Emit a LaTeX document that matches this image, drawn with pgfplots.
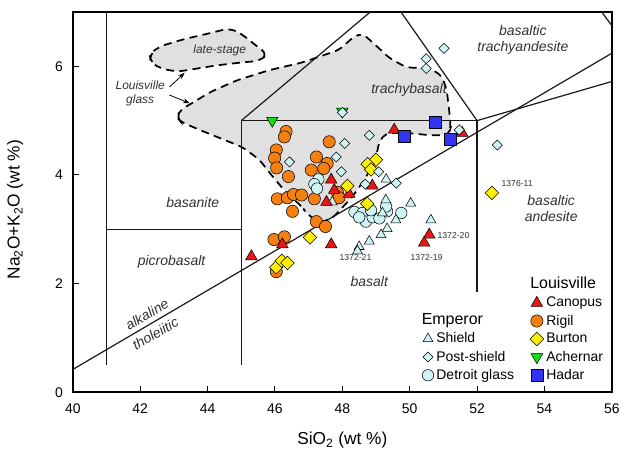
\documentclass[border=0pt]{standalone}
\usepackage{fontspec}
\setmainfont{Liberation Sans}
\usepackage{pgfplots}
\pgfplotsset{compat=1.18}
\usetikzlibrary{arrows.meta}
\definecolor{canred}{RGB}{232,22,22}
\definecolor{rigor}{RGB}{245,128,18}
\definecolor{burye}{RGB}{255,240,0}
\definecolor{achgr}{RGB}{20,222,20}
\definecolor{hadbl}{RGB}{52,52,240}
\definecolor{pale}{RGB}{208,243,243}
\definecolor{fieldfill}{RGB}{224,224,224}
\definecolor{ftext}{RGB}{50,50,50}
\pgfplotsset{
  mk/.style={only marks, mark options={draw=black, line width=0.45pt}},
}
\begin{document}
\begin{tikzpicture}
\begin{axis}[
  name=ax,
  scale only axis, width=405pt, height=285.75pt,
  xmin=40, xmax=56, ymin=0, ymax=7,
  xtick={40,42,...,56}, ytick={0,2,4,6},
  tick align=inside, xtick pos=bottom, ytick pos=left,
  major tick length=4.5pt,
  tick style={line width=0.8pt, black},
  axis line style={line width=1.3pt},
  /pgf/number format/assume math mode=true,
  ticklabel style={font=\fontsize{10.5}{12}\selectfont},
  xticklabel style={yshift=-5.5pt},
  yticklabel style={xshift=-4pt},
  xlabel={SiO\textsubscript{2} (wt \%)},
  ylabel={Na\textsubscript{2}O+K\textsubscript{2}O (wt \%)},
  label style={font=\fontsize{13}{15}\selectfont},
  xlabel style={at={(axis description cs:0.5,-0.126)}, anchor=center},
  ylabel style={at={(axis description cs:-0.107,0.48)}, anchor=center},
  legend style={at={(0.832,0)}, anchor=south west, yshift=4pt, draw=none, fill=none,
    font=\fontsize{10.5}{12}\selectfont, row sep=0.6pt},
  legend cell align=left,
]
% glass fields
\addplot[fill=fieldfill, draw=black, line width=1.3pt, dash pattern=on 6pt off 4pt, rounded corners=4pt, forget plot] coordinates {
(43.08,5.06) (43.2,5.2) (43.56,5.33) (44.06,5.52) (44.86,5.74) (45.84,5.93) (46.81,6.07) (47.9,6.3) (48.35,6.55) (48.6,6.6) (48.9,6.44) (49.4,6.15) (49.9,5.98) (50.6,5.96) (50.95,5.83) (51.1,5.56) (51.17,5.2) (51.22,4.88) (51.15,4.73) (50.6,4.73) (50.0,4.77) (49.3,4.77) (49.1,4.62) (49.0,4.33) (48.7,3.95) (48.3,3.6) (47.7,3.2) (47.3,3.12) (46.93,3.3) (46.81,3.41) (46.34,3.67) (45.84,4.04) (45.54,4.28) (45.04,4.51) (43.76,4.83) (43.2,4.98)
} -- cycle;
\addplot[fill=fieldfill, draw=black, line width=1.3pt, dash pattern=on 6pt off 4pt, rounded corners=5pt, forget plot] coordinates {
(42.28,6.22) (42.55,6.36) (43.3,6.5) (44.0,6.6) (44.65,6.7) (45.0,6.6) (45.4,6.4) (45.78,6.22) (45.55,6.1) (45.0,6.07) (44.3,6.02) (43.7,5.96) (43.1,5.9) (42.6,5.96) (42.3,6.08)
} -- cycle;
% field boundaries
\pgfplotsset{bnd/.style={no markers, black!90, line width=0.9pt, forget plot}}
\addplot[bnd] coordinates {(41,0.5) (41,7)};
\addplot[bnd] coordinates {(41,3) (45,3)};
\addplot[bnd] coordinates {(45,0.5) (45,5)};
\addplot[bnd] coordinates {(45,5) (52,5)};
\addplot[bnd] coordinates {(52,5) (52,1.85)};
\addplot[bnd] coordinates {(45,5) (48.83,7)};
\addplot[bnd] coordinates {(52,5) (49.74,7)};
\addplot[bnd] coordinates {(52,5) (56,5.72)};
\addplot[bnd] coordinates {(55.7,7) (56,6.75)};
\addplot[bnd] coordinates {(40,0.42) (56,6.24)};
% Rigil
\addplot[mk, forget plot, mark=*, mark size=4.6pt, mark options={fill=rigor}] coordinates {
(46.33,4.80) (46.28,4.70) (47.61,4.61) (46.04,4.46) (45.99,4.31) (46.05,4.13) (46.40,3.97)
(47.23,4.33) (47.55,4.21) (47.45,4.12) (47.08,4.09) (46.07,3.56) (46.37,3.58) (46.55,3.64)
(46.79,3.63) (46.52,3.33) (47.17,3.56) (47.23,3.14) (47.50,3.05) (47.85,3.68) (47.90,3.58)
(45.97,2.81) (46.28,2.86) (46.04,2.22)};
% Detroit glass
\addplot[mk, forget plot, mark=*, mark size=4.3pt, mark options={fill=pale}] coordinates {
(47.29,3.92) (47.17,3.83) (47.25,3.75) (48.36,3.32) (48.6,3.3) (48.7,3.14) (48.9,3.22)
(49.1,3.2) (49.33,3.33) (49.75,3.3) (49.3,3.42) (48.5,3.22) (48.85,3.35)};
% Shield
\addplot[mk, forget plot, mark=triangle*, mark size=4.3pt, mark options={fill=pale}] coordinates {
(49.29,3.54) (50.03,3.48) (49.59,3.17) (50.63,3.17) (49.33,3.01) (49.15,2.9) (48.8,2.78)
(48.5,2.68) (48.45,2.6) (49.19,3.3) (49.3,3.92) (47.7,3.5)};
% Canopus
\addplot[mk, forget plot, mark=triangle*, mark size=5pt, mark options={fill=canred}] coordinates {
(49.54,4.83) (51.56,4.77) (47.67,3.91) (48.89,3.8) (48.2,3.65) (47.76,3.72) (47.53,3.5)
(47.67,2.72) (46.22,2.72) (45.3,2.5) (50.58,2.9) (50.43,2.75)};
% Burton
\addplot[mk, forget plot, mark=square*, mark size=3.6pt, mark options={fill=burye, rotate=45}] coordinates {
(49.0,4.28) (48.75,4.2) (48.85,4.1) (48.15,3.8) (48.74,3.47) (47.04,2.85) (46.04,2.3)
(46.2,2.42) (46.37,2.38) (52.44,3.67)};
% Achernar
\addplot[mk, forget plot, mark=triangle*, mark size=5pt, mark options={fill=achgr, rotate=180}] coordinates {
(45.92,5.0) (48.0,5.17)};
% Hadar
\addplot[mk, forget plot, mark=square*, mark size=4.5pt, mark options={fill=hadbl}] coordinates {
(50.77,4.97) (49.84,4.72) (51.2,4.66)};
% Post-shield
\addplot[mk, forget plot, mark=square*, mark size=2.7pt, mark options={fill=pale, rotate=45}] coordinates {
(51.02,6.33) (50.49,6.14) (50.49,5.96) (51.47,4.83) (52.6,4.55) (48.8,4.73) (48.07,4.58)
(47.82,4.33) (47.97,4.06) (49.08,4.06) (48.68,3.83) (49.6,3.85) (46.43,4.24) (48.0,5.15)};
% labels
\begin{scope}[every node/.style={text=ftext, font=\fontsize{10.5}{12}\selectfont\itshape}]
\node at (axis cs:43.56,3.49) {basanite};
\node at (axis cs:42.93,2.40) {picrobasalt};
\node at (axis cs:48.8,2.04) {basalt};
\node at (axis cs:49.98,5.56) {trachybasalt};
\node[align=center] at (axis cs:53.36,6.48) {basaltic\\trachyandesite};
\node[align=center] at (axis cs:54.2,3.38) {basaltic\\andesite};
\node[rotate=30.4, inner sep=0pt] at (axis cs:42.2,1.43) {alkaline};
\node[rotate=30.4, inner sep=0pt] at (axis cs:42.45,1.08) {tholeiitic};
\end{scope}
\node[text=ftext, font=\fontsize{9}{10}\selectfont\itshape] at (axis cs:44.36,6.29) {late-stage};
\node[text=ftext, font=\fontsize{9}{10}\selectfont\itshape, align=center] at (axis cs:42.0,5.5) {Louisville\\glass};
\draw[-{Stealth[length=5pt]}, line width=0.6pt] (axis cs:42.87,5.62) -- (axis cs:43.32,5.88);
\draw[-{Stealth[length=5pt]}, line width=0.6pt] (axis cs:42.87,5.47) -- (axis cs:43.47,5.32);
\begin{scope}[every node/.style={text=ftext, font=\fontsize{6.5}{7}\selectfont}]
\node at (axis cs:53.19,3.84) {1376-11};
\node at (axis cs:51.3,2.88) {1372-20};
\node at (axis cs:50.5,2.48) {1372-19};
\node at (axis cs:48.39,2.48) {1372-21};
\end{scope}
% Louisville legend
\addlegendimage{legend image code/.code={}}
\addlegendentry{\hspace*{-12pt}\fontsize{12}{14}\selectfont Louisville}
\addlegendimage{mk, mark=triangle*, mark size=5pt, mark options={fill=canred}}
\addlegendentry{Canopus}
\addlegendimage{mk, mark=*, mark size=4.6pt, mark options={fill=rigor}}
\addlegendentry{Rigil}
\addlegendimage{mk, mark=square*, mark size=3.6pt, mark options={fill=burye, rotate=45}}
\addlegendentry{Burton}
\addlegendimage{mk, mark=triangle*, mark size=5pt, mark options={fill=achgr, rotate=180}}
\addlegendentry{Achernar}
\addlegendimage{mk, mark=square*, mark size=4.5pt, mark options={fill=hadbl}}
\addlegendentry{Hadar}
\end{axis}
\begin{axis}[
  at={(ax.south west)}, anchor=south west,
  scale only axis, width=405pt, height=285.75pt,
  hide axis, xmin=0, xmax=1, ymin=0, ymax=1,
  legend style={at={(0.630,0)}, anchor=south west, yshift=4pt, draw=none, fill=none,
    font=\fontsize{10.5}{12}\selectfont, row sep=0.6pt},
  legend cell align=left,
]
\addplot[draw=none, forget plot] coordinates {(0,0)};
\addlegendimage{legend image code/.code={}}
\addlegendentry{\hspace*{-11pt}\fontsize{12}{14}\selectfont Emperor}
\addlegendimage{mk, mark=triangle*, mark size=4.3pt, mark options={fill=pale}}
\addlegendentry{Shield}
\addlegendimage{mk, mark=square*, mark size=2.7pt, mark options={fill=pale, rotate=45}}
\addlegendentry{Post-shield}
\addlegendimage{mk, mark=*, mark size=4.3pt, mark options={fill=pale}}
\addlegendentry{Detroit glass}
\end{axis}
\path ([xshift=-54.75pt,yshift=-46.5pt]ax.south west) rectangle ([xshift=8.25pt,yshift=9pt]ax.north east);
\end{tikzpicture}
\end{document}
